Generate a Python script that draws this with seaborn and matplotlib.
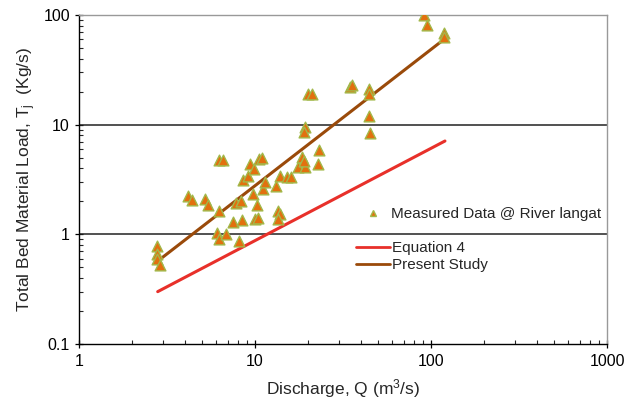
import numpy as np
import pandas as pd
import matplotlib
matplotlib.use("Agg")
import matplotlib.pyplot as plt
from matplotlib.lines import Line2D
import seaborn as sns

q_meas = [2.76, 2.76, 2.76, 2.88, 4.17, 4.39, 5.2, 5.44, 6.25, 6.22, 6.56,
          6.09, 6.25, 6.88, 8.08, 7.5, 8.41, 7.84, 8.37, 9.7, 10.3, 9.96,
          10.4, 13.5, 13.8, 13.5, 13.2, 11.1, 11.4, 8.55, 9.17, 9.33, 9.87,
          10.5, 10.9, 13.8, 15.1, 16.1, 17.5, 19.2, 18.6, 19.0, 23.2, 22.7,
          19.3, 19.0, 19.9, 21.0, 90.9, 95.0, 119.0, 118.0, 34.8, 35.8,
          44.7, 44.7, 44.2, 45.2]
t_meas = [0.78, 0.66, 0.59, 0.52, 2.24, 2.05, 2.12, 1.84, 1.63, 4.73, 4.73,
          1.02, 0.91, 1.0, 0.87, 1.29, 1.35, 1.92, 2.01, 2.32, 1.84, 1.39,
          1.42, 1.63, 1.52, 1.39, 2.75, 2.57, 3.0, 3.1, 3.4, 4.35, 3.91,
          4.83, 5.0, 3.4, 3.36, 3.33, 4.11, 4.11, 5.1, 4.7, 5.87, 4.37,
          9.5, 8.6, 19.0, 19.0, 99.8, 82.0, 68.0, 63.0, 22.2, 22.8,
          21.3, 18.9, 12.0, 8.45]

# fitted lines (straight on log-log axes)
q_line = [2.8, 120]
t_eq4 = [0.30, 7.1]
t_present = [0.57, 61]

x_ticks = [1, 10, 100, 1000]
x_ticklabels = ["1", "10", "100", "1000"]
y_ticks = [0.1, 1, 10, 100]
y_ticklabels = ["0.1", "1", "10", "100"]

meas = pd.DataFrame({"Q": q_meas, "T": t_meas})
lines = pd.DataFrame({"Q": q_line * 2,
                      "T": t_eq4 + t_present,
                      "curve": ["Equation 4"] * 2 + ["Present Study"] * 2})

sns.set_style("ticks")
plt.rcParams["font.family"] = ["Liberation Sans", "DejaVu Sans"]
plt.rcParams["mathtext.fontset"] = "custom"
plt.rcParams["mathtext.rm"] = "Liberation Sans"
plt.rcParams["mathtext.it"] = "Liberation Sans"

fig = plt.figure(figsize=(6.28, 4.08), dpi=100)
ax = fig.add_axes([0.1258, 0.157, 0.8408, 0.806])
ax.set_xscale("log")
ax.set_yscale("log")

# grid lines at 1 and 10
for yv in [1, 10]:
    ax.axhline(yv, color="#222222", lw=1.1, zorder=1)

red = "#e8302a"
brown = "#9a4a0a"
sns.lineplot(data=lines, x="Q", y="T", hue="curve",
             palette={"Equation 4": red, "Present Study": brown},
             linewidth=2.2, legend=False, ax=ax, zorder=3)
sns.scatterplot(data=meas, x="Q", y="T", marker="^", s=60,
                color="#e2700f", edgecolor="#a2b84a", linewidth=1.0,
                ax=ax, zorder=4, legend=False)

ax.set_xlim(1, 1000)
ax.set_ylim(0.1, 100)
ax.set_xticks(x_ticks)
ax.set_xticklabels(x_ticklabels)
ax.set_yticks(y_ticks)
ax.set_yticklabels(y_ticklabels)
ax.tick_params(which="major", direction="inout", length=6, width=0.9,
               labelsize=11.5, colors="black")
ax.tick_params(which="minor", direction="in", length=3, width=0.8)
ax.tick_params(axis="x", pad=4)

for side in ["left", "bottom"]:
    ax.spines[side].set_color("black")
    ax.spines[side].set_linewidth(1.0)
for side in ["top", "right"]:
    ax.spines[side].set_visible(True)
    ax.spines[side].set_color("#999999")
    ax.spines[side].set_linewidth(1.0)

ax.set_xlabel("Discharge, Q (m$^3$/s)", fontsize=12.5, labelpad=6)
ax.set_ylabel("Total Bed Material Load, T$_{\\rm j}$  (Kg/s)", fontsize=12.5,
              labelpad=4)

# legends
h_meas = [Line2D([], [], marker="^", ls="none", markersize=4.5,
                 markerfacecolor="#e2700f", markeredgecolor="#a2b84a")]
leg1 = ax.legend(h_meas, ["Measured Data @ River langat"], loc="upper left",
                 bbox_to_anchor=(0.522, 0.44), frameon=False, fontsize=11,
                 handlelength=1.4, handletextpad=0.45, borderpad=0)
ax.add_artist(leg1)
h_lines = [Line2D([], [], color=red, lw=2), Line2D([], [], color=brown, lw=2)]
ax.legend(h_lines, ["Equation 4", "Present Study"], loc="upper left",
          bbox_to_anchor=(0.51, 0.335), frameon=False, fontsize=11,
          handlelength=2.2, handletextpad=0.15, borderpad=0, labelspacing=0.2)

fig.savefig("out.png", dpi=100)
